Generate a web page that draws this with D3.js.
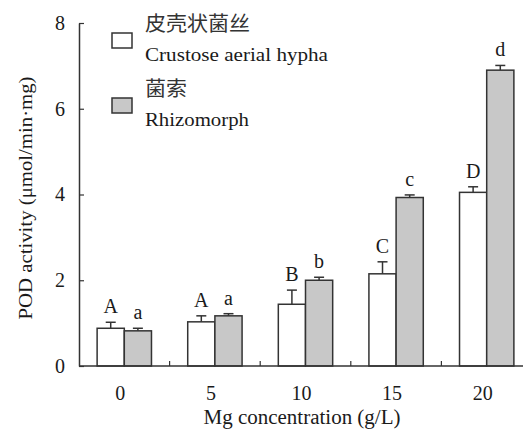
<!DOCTYPE html>
<html>
<head>
<meta charset="utf-8">
<script src="https://cdn.jsdelivr.net/npm/d3@7"></script>
<style>
  body { margin: 0; background: #fff; }
  svg text { font-family: "Liberation Serif", "DejaVu Serif", serif; fill: #1a1a1a; }
  svg text.cjk { font-family: "Noto Sans CJK SC", sans-serif; fill: #333; }
</style>
</head>
<body>
<svg id="chart" width="523" height="434" font-family="Liberation Serif, serif"></svg>
<script>
const concentrations = ["0", "5", "10", "15", "20"];
const seriesNames = ["Crustose aerial hypha", "Rhizomorph"];
const seriesNamesZh = ["皮壳状菌丝", "菌索"];
const hyphaValues = [0.88, 1.03, 1.44, 2.15, 4.05];
const hyphaErrors = [0.14, 0.14, 0.33, 0.28, 0.13];
const rhizoValues = [0.82, 1.17, 2.0, 3.93, 6.9];
const rhizoErrors = [0.06, 0.05, 0.07, 0.06, 0.11];
const hyphaLetters = ["A", "A", "B", "C", "D"];
const rhizoLetters = ["a", "a", "b", "c", "d"];
const yTicks = [0, 2, 4, 6, 8];

const fills = ["#ffffff", "#c8c8c8"];
const stroke = "#333";
const serif = "Liberation Serif, DejaVu Serif, serif";

const svg = d3.select("#chart");
const margin = { top: 23, left: 79, bottom: 68 };
const height = 434;

const x = d3.scaleBand()
  .domain(concentrations)
  .range([margin.left, margin.left + 5 * 90.6]);

const y = d3.scaleLinear()
  .domain([0, 8])
  .range([height - margin.bottom, margin.top]);

const barW = x.bandwidth() * 0.3;

// one row per bar
const rows = [];
concentrations.forEach((c, i) => {
  rows.push({ c, s: 0, v: hyphaValues[i], e: hyphaErrors[i], l: hyphaLetters[i] });
  rows.push({ c, s: 1, v: rhizoValues[i], e: rhizoErrors[i], l: rhizoLetters[i] });
});
const barX = d => x(d.c) + x.bandwidth() / 2 + (d.s === 0 ? -barW : 0);

// error bars (behind bars)
const err = svg.append("g").attr("stroke", stroke).attr("stroke-width", 1.5);
err.selectAll(".stem").data(rows).join("line")
  .attr("x1", d => barX(d) + barW / 2).attr("x2", d => barX(d) + barW / 2)
  .attr("y1", d => y(d.v)).attr("y2", d => y(d.v + d.e));
err.selectAll(".cap").data(rows).join("line")
  .attr("x1", d => barX(d) + barW / 2 - 5).attr("x2", d => barX(d) + barW / 2 + 5)
  .attr("y1", d => y(d.v + d.e)).attr("y2", d => y(d.v + d.e));

svg.append("g").selectAll("rect").data(rows).join("rect")
  .attr("x", d => barX(d))
  .attr("y", d => y(d.v))
  .attr("width", barW)
  .attr("height", d => y(0) - y(d.v))
  .attr("fill", d => fills[d.s])
  .attr("stroke", stroke)
  .attr("stroke-width", 1.5);

svg.append("g").selectAll("text").data(rows).join("text")
  .attr("x", d => barX(d) + barW / 2)
  .attr("y", d => y(d.v + d.e) - 9)
  .attr("text-anchor", "middle")
  .attr("font-size", 20)
  .text(d => d.l);

// y axis, ticks pointing inward
const yAxis = d3.axisLeft(y).tickValues(yTicks).tickSizeInner(-5).tickSizeOuter(0).tickPadding(14);
const gy = svg.append("g").attr("transform", `translate(${margin.left},0)`).call(yAxis);
gy.attr("font-family", serif);
gy.select(".domain").attr("stroke", "#333").attr("stroke-width", 1.5);
gy.selectAll(".tick line").attr("stroke", "#333").attr("stroke-width", 1.2);
gy.selectAll(".tick text").attr("font-size", 20).attr("fill", "#1a1a1a");

// x axis with small inward ticks between groups
const gx = svg.append("g").attr("transform", `translate(0,${y(0)})`);
gx.append("line")
  .attr("x1", margin.left).attr("x2", 523)
  .attr("stroke", "#333").attr("stroke-width", 1.5);
gx.selectAll(".sep").data(concentrations.slice(1)).join("line")
  .attr("x1", d => x(d)).attr("x2", d => x(d))
  .attr("y1", 0).attr("y2", -5)
  .attr("stroke", "#333").attr("stroke-width", 1.2);
gx.selectAll(".lab").data(concentrations).join("text")
  .attr("x", d => x(d) + x.bandwidth() / 2 - 4)
  .attr("y", 34)
  .attr("text-anchor", "middle")
  .attr("font-size", 20)
  .text(d => d);

svg.append("text")
  .attr("x", 302).attr("y", 424)
  .attr("text-anchor", "middle")
  .attr("font-size", 20)
  .attr("textLength", 197)
  .attr("lengthAdjust", "spacingAndGlyphs")
  .text("Mg concentration (g/L)");

svg.append("text")
  .attr("transform", `translate(32,198) rotate(-90)`)
  .attr("text-anchor", "middle")
  .attr("font-size", 18)
  .attr("textLength", 243)
  .attr("lengthAdjust", "spacingAndGlyphs")
  .text("POD activity (μmol/min·mg)");

// legend
const legend = svg.append("g");
const legendY = [33, 98];
seriesNames.forEach((name, i) => {
  legend.append("rect")
    .attr("x", 112).attr("y", legendY[i])
    .attr("width", 20).attr("height", 15)
    .attr("fill", fills[i]).attr("stroke", stroke).attr("stroke-width", 1.5);
  legend.append("text")
    .attr("class", "cjk")
    .attr("x", 145).attr("y", legendY[i] - 2)
    .attr("font-size", 20)
    .attr("textLength", 21 * seriesNamesZh[i].length)
    .attr("lengthAdjust", "spacingAndGlyphs")
    .text(seriesNamesZh[i]);
  legend.append("text")
    .attr("x", 145).attr("y", legendY[i] + 28)
    .attr("font-size", 19)
    .attr("textLength", i === 0 ? 183 : 104)
    .attr("lengthAdjust", "spacingAndGlyphs")
    .text(name);
});
</script>
</body>
</html>
